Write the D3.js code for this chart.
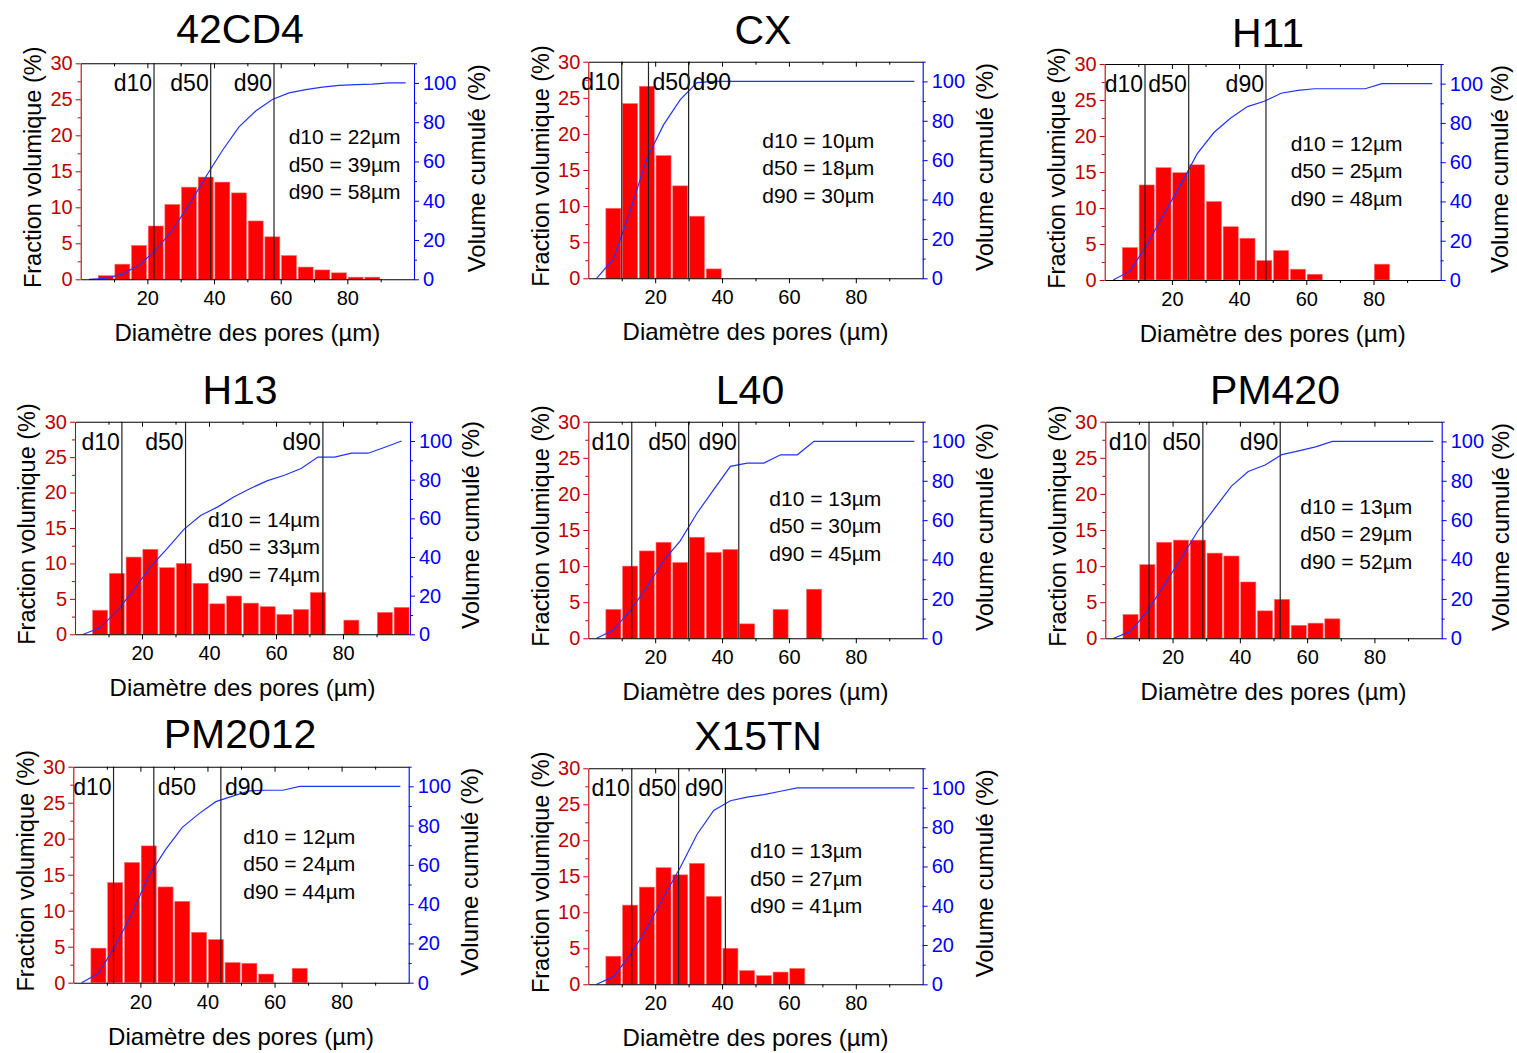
<!DOCTYPE html>
<html>
<head>
<meta charset="utf-8">
<script src="https://cdn.jsdelivr.net/npm/d3@7"></script>
<style>
  html, body { margin: 0; padding: 0; background: #fff; }
  svg { display: block; }
  text { font-family: "Liberation Sans", Arial, Helvetica, sans-serif; }
</style>
</head>
<body>
<svg id="chart" width="1517" height="1053"></svg>
<script>
// ---------------- DATA ----------------
const samples = ["42CD4", "CX", "H11", "H13", "L40", "PM420", "PM2012", "X15TN"];

// bin centres (µm) of the 5 µm classes
const binCenters = [7.5, 12.5, 17.5, 22.5, 27.5, 32.5, 37.5, 42.5, 47.5, 52.5,
                    57.5, 62.5, 67.5, 72.5, 77.5, 82.5, 87.5, 92.5, 97.5];
// x positions of the cumulative curve points (µm)
const cumX = [2.5, 7.5, 12.5, 17.5, 22.5, 27.5, 32.5, 37.5, 42.5, 47.5,
              52.5, 57.5, 62.5, 67.5, 72.5, 77.5, 82.5, 87.5, 92.5, 97.5];

// volume fraction (%) per class
const frac42CD4  = [0.5, 2.1, 4.7, 7.4, 10.4, 12.8, 14.2, 13.5, 12.0, 8.1, 5.9, 3.3, 1.7, 1.3, 0.9, 0.3, 0.3, 0, 0];
const fracCX     = [9.7, 24.2, 26.6, 17.0, 12.8, 8.6, 1.3, 0, 0, 0, 0, 0, 0, 0, 0, 0, 0, 0, 0];
const fracH11    = [4.5, 13.2, 15.6, 14.9, 16.0, 10.9, 7.4, 5.8, 2.7, 4.1, 1.5, 0.8, 0, 0, 0, 2.2, 0, 0, 0];
const fracH13    = [3.4, 8.6, 10.9, 12.0, 9.4, 10.0, 7.2, 4.3, 5.4, 4.4, 3.9, 2.8, 3.5, 5.9, 0, 2.0, 0, 3.1, 3.8];
const fracL40    = [4.0, 10.0, 12.1, 13.3, 10.5, 14.0, 11.9, 12.3, 2.0, 0, 4.0, 0, 6.8, 0, 0, 0, 0, 0, 0];
const fracPM420  = [3.3, 10.2, 13.3, 13.6, 13.6, 11.8, 11.4, 7.8, 3.8, 5.4, 1.8, 2.1, 2.7, 0, 0, 0, 0, 0, 0];
const fracPM2012 = [4.8, 13.9, 16.7, 19.0, 13.3, 11.3, 7.0, 6.0, 2.8, 2.7, 1.2, 0, 2.0, 0, 0, 0, 0, 0, 0];
const fracX15TN  = [3.9, 11.0, 13.5, 16.2, 15.2, 16.8, 12.2, 5.0, 1.9, 1.2, 1.7, 2.2, 0, 0, 0, 0, 0, 0, 0];

// cumulative volume (%)
const cum42CD4  = [0, 0.5, 2.6, 7.3, 14.7, 25.1, 37.9, 52.1, 65.6, 77.6, 85.7, 91.6, 94.9, 96.6, 97.9, 98.8, 99.1, 99.4, 100, 100];
const cumCX     = [0, 9.8, 34.1, 60.8, 77.9, 90.7, 99.4, 100, 100, 100, 100, 100, 100, 100, 100, 100, 100, 100, 100, 100];
const cumH11    = [0, 4.5, 17.7, 33.3, 48.2, 64.2, 75.1, 82.5, 88.3, 91.0, 95.1, 96.6, 97.4, 97.4, 97.4, 97.4, 100, 100, 100, 100];
const cumH13    = [0, 3.4, 12.0, 22.9, 34.9, 44.3, 54.3, 61.5, 65.8, 71.2, 75.6, 79.5, 82.3, 85.8, 91.7, 91.7, 93.7, 93.7, 96.8, 100];
const cumL40    = [0, 4.2, 14.0, 26.0, 39.5, 49.5, 63.5, 75.5, 87.3, 89.0, 89.0, 93.2, 93.2, 100, 100, 100, 100, 100, 100, 100];
const cumPM420  = [0, 3.5, 13.8, 27.0, 40.5, 54.5, 66.0, 77.3, 84.7, 88.0, 93.3, 95.2, 97.2, 100, 100, 100, 100, 100, 100, 100];
const cumPM2012 = [0, 4.8, 18.7, 35.4, 54.4, 67.8, 79.1, 86.1, 92.2, 95.0, 97.7, 98.0, 98.0, 100, 100, 100, 100, 100, 100, 100];
const cumX15TN  = [0, 3.9, 14.9, 28.4, 44.5, 59.5, 76.3, 88.5, 93.5, 95.3, 96.6, 98.3, 100, 100, 100, 100, 100, 100, 100, 100];

const d10 = [22, 10, 12, 14, 13, 13, 12, 13];
const d50 = [39, 18, 25, 33, 30, 29, 24, 27];
const d90 = [58, 30, 48, 74, 45, 52, 44, 41];

const fractions = [frac42CD4, fracCX, fracH11, fracH13, fracL40, fracPM420, fracPM2012, fracX15TN];
const cumulative = [cum42CD4, cumCX, cumH11, cumH13, cumL40, cumPM420, cumPM2012, cumX15TN];

// tick values
const xMajor = [20, 40, 60, 80];
const xMinor = [10, 30, 50, 70, 90];
const yLMajor = [0, 5, 10, 15, 20, 25, 30];
const yLMinor = [2.5, 7.5, 12.5, 17.5, 22.5, 27.5];
const yRMajor = [0, 20, 40, 60, 80, 100];
const yRMinor = [10, 30, 50, 70, 90, 110];

// ---------------- LAYOUT (positions/styles) ----------------
const layout = [
  {L: 80.7,   R: 414,    T: 63.3,  B: 279.3, tx: 240,  ty: 43,  sx: 208, sy: 81,  rl: 63, anchors: ["end", "end", "end"]},
  {L: 588.3,  R: 922.7,  T: 61.7,  B: 278.3, tx: 763,  ty: 44,  sx: 174, sy: 86,  rl: 62, anchors: ["end", "start", "start"]},
  {L: 1104.7, R: 1440.7, T: 64,    B: 280,   tx: 1268, ty: 47,  sx: 186, sy: 87,  rl: 59, anchors: ["end", "end", "end"]},
  {L: 75,     R: 410,    T: 421.7, B: 634.3, tx: 240,  ty: 404, sx: 133, sy: 105, rl: 61, anchors: ["end", "end", "end"]},
  {L: 588.3,  R: 922.7,  T: 421.7, B: 638.3, tx: 750,  ty: 404, sx: 181, sy: 84,  rl: 62, anchors: ["end", "end", "end"]},
  {L: 1105.3, R: 1441.7, T: 421.7, B: 638.3, tx: 1275, ty: 404, sx: 195, sy: 92,  rl: 59, anchors: ["end", "end", "end"]},
  {L: 73.3,   R: 408.7,  T: 766.7, B: 982.7, tx: 240,  ty: 748, sx: 170, sy: 77,  rl: 61, anchors: ["end", "start", "start"]},
  {L: 588.3,  R: 922.7,  T: 768.3, B: 984.3, tx: 758,  ty: 750, sx: 162, sy: 90,  rl: 62, anchors: ["end", "end", "end"]}
];

const RED_AXIS = "#c00000";
const BLUE_AXIS = "#0000ff";
const BAR = "#ff0000";
const LINE = "#2233ff";

const svg = d3.select("#chart");

function styleAxis(g, color, fontSize) {
  g.select(".domain").attr("stroke", color).attr("stroke-width", 1.1);
  g.selectAll(".tick line").attr("stroke", color).attr("stroke-width", 1);
  g.selectAll(".tick text").attr("fill", color).attr("font-size", fontSize)
    .attr("font-family", '"Liberation Sans", Arial, sans-serif');
}

samples.forEach((name, k) => {
  const lay = layout[k];
  const g = svg.append("g");
  const x = d3.scaleLinear().domain([0, 100]).range([lay.L, lay.R]);
  const yL = d3.scaleLinear().domain([0, 30]).range([lay.B, lay.T]);
  const yR = d3.scaleLinear().domain([0, 110]).range([lay.B, lay.T]);

  // bars
  const bars = binCenters.map((c, i) => ({c, v: fractions[k][i]})).filter(d => d.v > 0);
  g.append("g").selectAll("rect").data(bars).join("rect")
    .attr("x", d => x(d.c - 2.5) + 0.85)
    .attr("width", d => x(d.c + 2.5) - x(d.c - 2.5) - 1.7)
    .attr("y", d => yL(d.v))
    .attr("height", d => yL(0) - yL(d.v))
    .attr("fill", BAR)
    .attr("stroke", "#ff7070")
    .attr("stroke-width", 0.6);

  // cumulative curve
  const line = d3.line().x(d => x(d[0])).y(d => yR(d[1]));
  g.append("path")
    .datum(cumX.map((cx, i) => [cx, cumulative[k][i]]))
    .attr("d", line)
    .attr("fill", "none")
    .attr("stroke", LINE)
    .attr("stroke-width", 1.2);

  // d10 / d50 / d90 lines and labels
  const ds = [d10[k], d50[k], d90[k]];
  const dnames = ["d10", "d50", "d90"];
  ds.forEach((dv, j) => {
    g.append("line")
      .attr("x1", x(dv)).attr("x2", x(dv))
      .attr("y1", yL(0)).attr("y2", yL(30))
      .attr("stroke", "#222").attr("stroke-width", 1.2);
    const anchor = lay.anchors[j];
    g.append("text")
      .attr("x", x(dv) + (anchor === "end" ? -2 : 4))
      .attr("y", lay.T + 28)
      .attr("text-anchor", anchor)
      .attr("font-size", 23)
      .attr("fill", "#000")
      .text(dnames[j]);
  });

  // statistics text
  const stats = [`d10 = ${d10[k]}µm`, `d50 = ${d50[k]}µm`, `d90 = ${d90[k]}µm`];
  stats.forEach((s, j) => {
    g.append("text")
      .attr("x", lay.L + lay.sx)
      .attr("y", lay.T + lay.sy + j * 27.4)
      .attr("font-size", 21)
      .attr("fill", "#000")
      .text(s);
  });

  // top axis (mirror, ticks inward)
  const top = g.append("g").attr("transform", `translate(0,${lay.T})`);
  top.call(d3.axisBottom(x).tickValues(xMajor).tickSize(5).tickSizeOuter(0).tickFormat(""));
  top.append("g").call(d3.axisBottom(x).tickValues(xMinor).tickSize(3).tickSizeOuter(0).tickFormat(""))
    .select(".domain").remove();
  styleAxis(top, "#000", 20);

  // bottom axis
  const bot = g.append("g").attr("transform", `translate(0,${lay.B})`);
  bot.call(d3.axisBottom(x).tickValues(xMajor).tickSize(5).tickPadding(7).tickSizeOuter(0));
  bot.append("g").call(d3.axisBottom(x).tickValues(xMinor).tickSize(3).tickSizeOuter(0).tickFormat(""))
    .select(".domain").remove();
  styleAxis(bot, "#000", 20);

  // left axis
  const left = g.append("g").attr("transform", `translate(${lay.L},0)`);
  left.call(d3.axisLeft(yL).tickValues(yLMajor).tickSize(5).tickPadding(3).tickSizeOuter(0));
  left.append("g").call(d3.axisLeft(yL).tickValues(yLMinor).tickSize(3).tickSizeOuter(0).tickFormat(""))
    .select(".domain").remove();
  styleAxis(left, RED_AXIS, 20);

  // right axis
  const right = g.append("g").attr("transform", `translate(${lay.R},0)`);
  right.call(d3.axisRight(yR).tickValues(yRMajor).tickSize(5).tickPadding(4).tickSizeOuter(0));
  right.append("g").call(d3.axisRight(yR).tickValues(yRMinor).tickSize(3).tickSizeOuter(0).tickFormat(""))
    .select(".domain").remove();
  styleAxis(right, BLUE_AXIS, 20);

  // titles
  g.append("text")
    .attr("x", lay.tx).attr("y", lay.ty)
    .attr("text-anchor", "middle")
    .attr("font-size", 41)
    .attr("fill", "#000")
    .text(name);

  const midY = (lay.T + lay.B) / 2;
  g.append("text")
    .attr("transform", `translate(${lay.L - 48},${midY - 4}) rotate(-90)`)
    .attr("text-anchor", "middle")
    .attr("dy", "0.35em")
    .attr("font-size", 23.5)
    .text("Fraction volumique (%)");

  g.append("text")
    .attr("transform", `translate(${lay.R + lay.rl},${midY - 3}) rotate(-90)`)
    .attr("text-anchor", "middle")
    .attr("dy", "0.35em")
    .attr("font-size", 24)
    .text("Volume cumulé (%)");

  g.append("text")
    .attr("x", (lay.L + lay.R) / 2)
    .attr("y", lay.B + 62)
    .attr("text-anchor", "middle")
    .attr("font-size", 24)
    .text("Diamètre des pores (µm)");
});
</script>
</body>
</html>
